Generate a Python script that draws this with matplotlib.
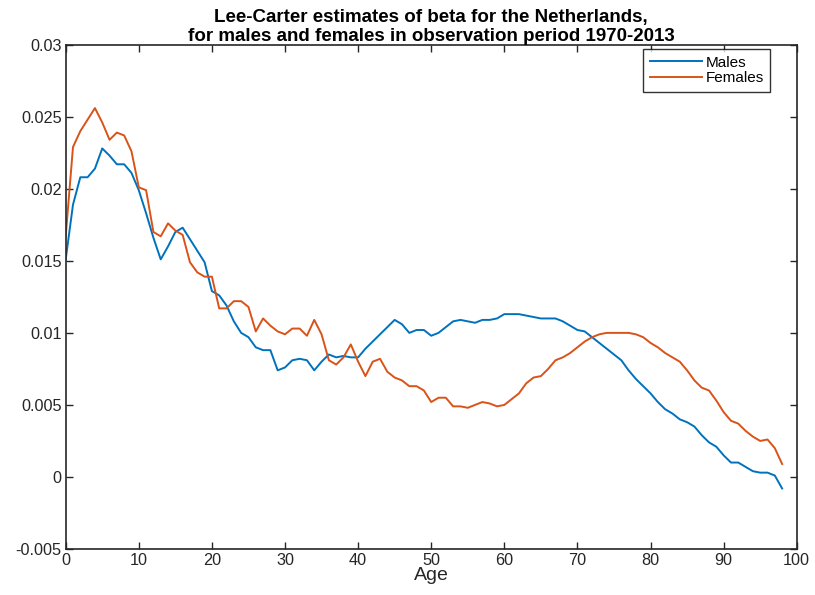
import matplotlib
matplotlib.use("Agg")
import matplotlib.pyplot as plt

plt.rcParams['font.family'] = ['Liberation Sans', 'DejaVu Sans']

ages = list(range(0, 99))

males = [0.0151, 0.0189, 0.0208, 0.0208, 0.0214, 0.0228, 0.0223, 0.0217, 0.0217, 0.0211,
         0.0199, 0.0183, 0.0166, 0.0151, 0.0160, 0.0170, 0.0173, 0.0165, 0.0157, 0.0149,
         0.0129, 0.0126, 0.0119, 0.0108, 0.0100, 0.0097, 0.0090, 0.0088, 0.0088, 0.0074,
         0.0076, 0.0081, 0.0082, 0.0081, 0.0074, 0.0080, 0.0085, 0.0083, 0.0084, 0.0083,
         0.0083, 0.0089, 0.0094, 0.0099, 0.0104, 0.0109, 0.0106, 0.0100, 0.0102, 0.0102,
         0.0098, 0.0100, 0.0104, 0.0108, 0.0109, 0.0108, 0.0107, 0.0109, 0.0109, 0.0110,
         0.0113, 0.0113, 0.0113, 0.0112, 0.0111, 0.0110, 0.0110, 0.0110, 0.0108, 0.0105,
         0.0102, 0.0101, 0.0097, 0.0093, 0.0089, 0.0085, 0.0081, 0.0074, 0.0068, 0.0063,
         0.0058, 0.0052, 0.0047, 0.0044, 0.0040, 0.0038, 0.0035, 0.0029, 0.0024, 0.0021,
         0.0015, 0.0010, 0.0010, 0.0007, 0.0004, 0.0003, 0.0003, 0.0001, -0.0008]

females = [0.0167, 0.0229, 0.0240, 0.0248, 0.0256, 0.0246, 0.0234, 0.0239, 0.0237, 0.0226,
           0.0201, 0.0199, 0.0170, 0.0167, 0.0176, 0.0171, 0.0168, 0.0149, 0.0142, 0.0139,
           0.0139, 0.0117, 0.0117, 0.0122, 0.0122, 0.0118, 0.0101, 0.0110, 0.0105, 0.0101,
           0.0099, 0.0103, 0.0103, 0.0098, 0.0109, 0.0099, 0.0081, 0.0078, 0.0083, 0.0092,
           0.0080, 0.0070, 0.0080, 0.0082, 0.0073, 0.0069, 0.0067, 0.0063, 0.0063, 0.0060,
           0.0052, 0.0055, 0.0055, 0.0049, 0.0049, 0.0048, 0.0050, 0.0052, 0.0051, 0.0049,
           0.0050, 0.0054, 0.0058, 0.0065, 0.0069, 0.0070, 0.0075, 0.0081, 0.0083, 0.0086,
           0.0090, 0.0094, 0.0097, 0.0099, 0.0100, 0.0100, 0.0100, 0.0100, 0.0099, 0.0097,
           0.0093, 0.0090, 0.0086, 0.0083, 0.0080, 0.0074, 0.0067, 0.0062, 0.0060, 0.0053,
           0.0045, 0.0039, 0.0037, 0.0032, 0.0028, 0.0025, 0.0026, 0.0020, 0.0009]

xticks = [0, 10, 20, 30, 40, 50, 60, 70, 80, 90, 100]
yticks = [-0.005, 0, 0.005, 0.01, 0.015, 0.02, 0.025, 0.03]
ytick_labels = ['-0.005', '0', '0.005', '0.01', '0.015', '0.02', '0.025', '0.03']

fig = plt.figure(figsize=(8.15, 5.95), dpi=100)
ax = fig.add_axes([0.0806, 0.0773, 0.897, 0.8476])

ax.plot(ages, males, color='#0072BD', linewidth=1.4, label='Males')
ax.plot(ages, females, color='#D95319', linewidth=1.4, label='Females')

ax.set_xlim(0, 100)
ax.set_ylim(-0.005, 0.03)
ax.set_xticks(xticks)
ax.set_yticks(yticks)
ax.set_yticklabels(ytick_labels)

ax.tick_params(direction='in', top=True, right=True, length=5, width=1.0,
               labelsize=11.7, colors='#262626', pad=3)
for sp in ax.spines.values():
    sp.set_linewidth(1.2)
    sp.set_color('#262626')

ax.set_xlabel('Age', fontsize=14, labelpad=-1, color='#262626')
ax.set_title('Lee-Carter estimates of beta for the Netherlands,\n'
             'for males and females in observation period 1970-2013',
             fontsize=13.5, fontweight='bold', linespacing=1.1, pad=3)

leg = ax.legend(loc='upper right', bbox_to_anchor=(0.964, 0.992), fontsize=11,
                frameon=True, fancybox=False, handlelength=3.4, handletextpad=0.2,
                borderpad=0.45, labelspacing=0.1, borderaxespad=0)
leg.get_frame().set_edgecolor('black')
leg.get_frame().set_linewidth(1.0)

fig.savefig('out.png', dpi=100)
